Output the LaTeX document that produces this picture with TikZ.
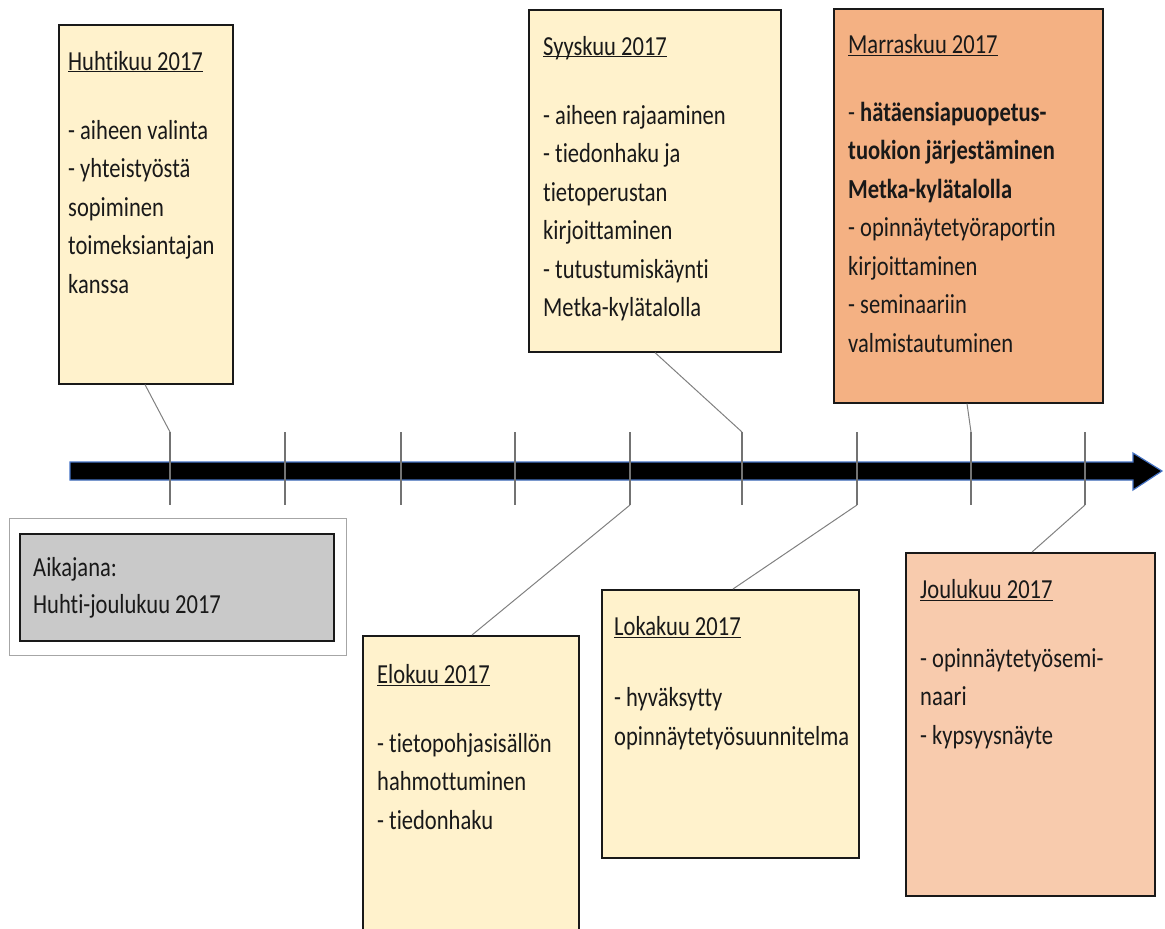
\documentclass[tikz,border=0pt]{standalone}
\usepackage{fontspec}
\setmainfont{Carlito}[FakeStretch=0.82, Ligatures=CommonOff]
\usetikzlibrary{positioning,calc}

\definecolor{cream}{HTML}{FFF2CC}
\definecolor{salmon}{HTML}{F4B183}
\definecolor{peach}{HTML}{F8CBAD}
\definecolor{legendgrey}{HTML}{C9C9C9}
\definecolor{axisblue}{HTML}{4472C4}

\newcommand{\mtitle}[1]{\underline{\raisebox{0pt}[\height][0pt]{#1}}}

\begin{document}
\begin{tikzpicture}[x=1pt, y=-1pt,
    month/.style={rectangle, draw=black!90, line width=1.6pt, anchor=north west, inner sep=0pt},
    monthtext/.style={align=left, inner sep=0pt, text=black!90, font=\fontsize{27.5}{38.5}\selectfont},
    tick/.style={draw=black!55, line width=1.2pt},
    link/.style={draw=black!50, line width=1pt}
]
    \useasboundingbox (0,0) rectangle (1165,929);
    \clip (0,0) rectangle (1165,929);

    % legend
    \node[month, draw=black!35, line width=1.4pt, fill=white, minimum width=337, minimum height=137] (frame) at (9,518) {};
    \node[month, fill=legendgrey, minimum width=314, minimum height=107] (legend) at (19,533) {};
    \node[monthtext, font=\fontsize{27.5}{37}\selectfont, below right=24pt and 14pt of legend.north west] (legendT) {Aikajana:\\ Huhti-joulukuu 2017};

    % timeline
    \draw[fill=black, draw=axisblue, line width=1.2pt] (70,462) -- (1133,462) -- (1133,453) -- (1162,471) -- (1133,490) -- (1133,480) -- (70,480) -- cycle;
    \foreach \x [count=\i] in {170,285,401,515,630,742,857,971,1085} {
        \coordinate (up\i) at (\x,432);
        \coordinate (dn\i) at (\x,505);
        \draw[tick] (up\i) -- (dn\i);
    }

    % boxes above
    \node[month, fill=cream, minimum width=174, minimum height=359] (huhti) at (58,24) {};
    \node[monthtext, below right=27pt and 10pt of huhti.north west] (huhtiT) {\mtitle{Huhtikuu 2017}\\[30.5pt]
        - aiheen valinta\\ - yhteistyöstä\\ sopiminen\\ toimeksiantajan\\ kanssa};

    \node[month, fill=cream, minimum width=252, minimum height=342] (syys) at (528,9) {};
    \node[monthtext, below right=27pt and 15pt of syys.north west] (syysT) {\mtitle{Syyskuu 2017}\\[30.5pt]
        - aiheen rajaaminen\\ - tiedonhaku ja\\ tietoperustan\\ kirjoittaminen\\ - tutustumiskäynti\\ Metka-kylätalolla};

    \node[month, fill=salmon, minimum width=269, minimum height=394] (marras) at (833,8) {};
    \node[monthtext, below right=26pt and 15pt of marras.north west] (marrasT) {\mtitle{Marraskuu 2017}\\[29.5pt]
        - \textbf{hätäensiapuopetus-}\\ \textbf{tuokion järjestäminen}\\ \textbf{Metka-kylätalolla}\\
        - opinnäytetyöraportin\\ kirjoittaminen\\ - seminaariin\\ valmistautuminen};

    % boxes below
    \node[month, fill=cream, minimum width=216, minimum height=320] (elo) at (362,635) {};
    \node[monthtext, below right=29pt and 15pt of elo.north west] (eloT) {\mtitle{Elokuu 2017}\\[30.5pt]
        - tietopohjasisällön\\ hahmottuminen\\ - tiedonhaku};

    \node[month, fill=cream, minimum width=257, minimum height=268] (loka) at (601,589) {};
    \node[monthtext, below right=27pt and 13pt of loka.north west] (lokaT) {\mtitle{Lokakuu 2017}\\[33pt]
        - hyväksytty\\ opinnäytetyösuunnitelma};

    \node[month, fill=peach, minimum width=249, minimum height=343] (joulu) at (905,552) {};
    \node[monthtext, below right=27pt and 15pt of joulu.north west] (jouluT) {\mtitle{Joulukuu 2017}\\[30.5pt]
        - opinnäytetyösemi-\\ naari\\ - kypsyysnäyte};

    % connectors
    \draw[link] ($(huhti.south west)+(87,0)$) -- (up1);
    \draw[link] ($(elo.north west)+(110,0)$) -- (dn5);
    \draw[link] ($(syys.south west)+(127,0)$) -- (up6);
    \draw[link] ($(loka.north west)+(132,0)$) -- (dn7);
    \draw[link] ($(marras.south west)+(134,0)$) -- (up8);
    \draw[link] ($(joulu.north west)+(127,0)$) -- (dn9);
\end{tikzpicture}
\end{document}
